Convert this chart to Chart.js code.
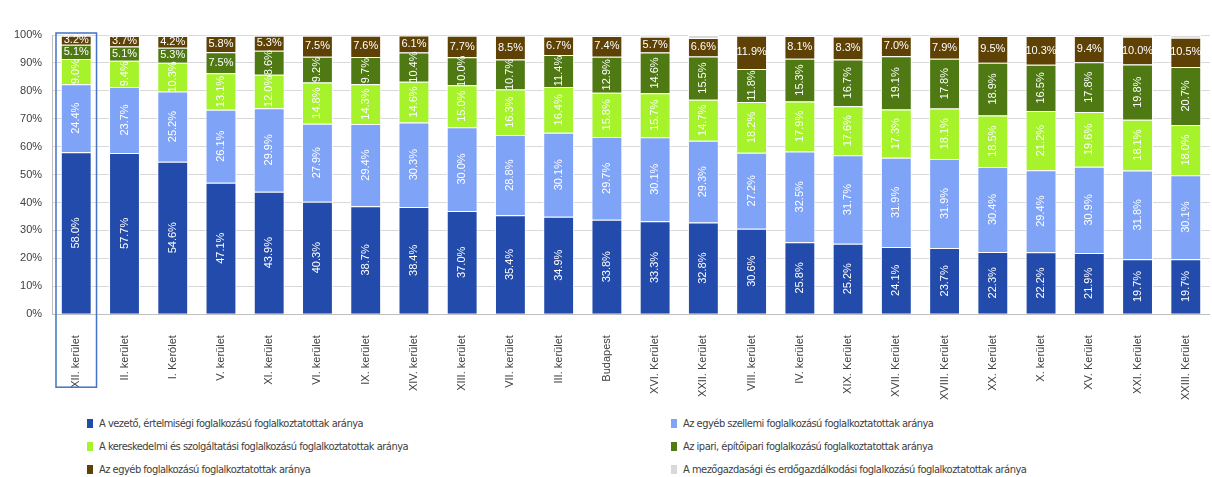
<!DOCTYPE html>
<html>
<head>
<meta charset="utf-8">
<script src="https://cdn.jsdelivr.net/npm/chart.js@4/dist/chart.umd.min.js"></script>
<style>
  body { margin: 0; background: #fff; }
  #wrap { position: relative; width: 1212px; height: 477px; }
  #legend { position: absolute; left: 87px; top: 415px; width: 1120px;
    display: grid; grid-template-columns: 584px 520px; row-gap: 6px;
    font-family: "Liberation Sans Narrow", "DejaVu Sans Condensed", sans-serif;
    font-size: 11px; letter-spacing: -0.5px; color: #404040; }
  #legend div { display: flex; align-items: center; height: 17px; }
  #legend span.box { display: inline-block; width: 6px; height: 9px; margin-right: 6px; }
  #chart { position: absolute; left: 0; top: 0; }
</style>
</head>
<body>
<div id="wrap">
  <canvas id="chart" width="1212" height="413"></canvas>
  <div id="legend"></div>
</div>
<script>
const categories = ["XII. kerület", "II. kerület", "I. Kerólet", "V. kerület", "XI. kerület", "VI. kerület",
  "IX. kerület", "XIV. kerület", "XIII. kerület", "VII. kerület", "III. kerület", "Budapest",
  "XVI. Kerület", "XXII. Kerület", "VIII. kerület", "IV. kerület", "XIX. Kerület", "XVII. Kerület",
  "XVIII. Kerület", "XX. Kerület", "X. kerület", "XV. Kerület", "XXI. Kerület", "XXIII. Kerület"];

const vezeto    = [58.0, 57.7, 54.6, 47.1, 43.9, 40.3, 38.7, 38.4, 37.0, 35.4, 34.9, 33.8, 33.3, 32.8, 30.6, 25.8, 25.2, 24.1, 23.7, 22.3, 22.2, 21.9, 19.7, 19.7];
const szellemi  = [24.4, 23.7, 25.2, 26.1, 29.9, 27.9, 29.4, 30.3, 30.0, 28.8, 30.1, 29.7, 30.1, 29.3, 27.2, 32.5, 31.7, 31.9, 31.9, 30.4, 29.4, 30.9, 31.8, 30.1];
const kereskedo = [9.0, 9.4, 10.3, 13.1, 12.0, 14.8, 14.3, 14.6, 15.0, 16.3, 16.4, 15.8, 15.7, 14.7, 18.2, 17.9, 17.6, 17.3, 18.1, 18.5, 21.2, 19.6, 18.1, 18.0];
const ipari     = [5.1, 5.1, 5.3, 7.5, 8.6, 9.2, 9.7, 10.4, 10.0, 10.7, 11.4, 12.9, 14.6, 15.5, 11.8, 15.3, 16.7, 19.1, 17.8, 18.9, 16.5, 17.8, 19.8, 20.7];
const egyeb     = [3.2, 3.7, 4.2, 5.8, 5.3, 7.5, 7.6, 6.1, 7.7, 8.5, 6.7, 7.4, 5.7, 6.6, 11.9, 8.1, 8.3, 7.0, 7.9, 9.5, 10.3, 9.4, 10.0, 10.5];
const mezo      = [0.3, 0.4, 0.4, 0.4, 0.3, 0.3, 0.3, 0.2, 0.3, 0.3, 0.5, 0.4, 0.6, 1.1, 0.3, 0.4, 0.5, 0.6, 0.6, 0.4, 0.4, 0.4, 0.6, 1.0];

const seriesNames = [
  "A vezető, értelmiségi foglalkozású foglalkoztatottak aránya",
  "Az egyéb szellemi foglalkozású foglalkoztatottak aránya",
  "A kereskedelmi és szolgáltatási foglalkozású foglalkoztatottak aránya",
  "Az ipari, építőipari foglalkozású foglalkoztatottak aránya",
  "Az egyéb foglalkozású foglalkoztatottak aránya",
  "A mezőgazdasági és erdőgazdálkodási foglalkozású foglalkoztatottak aránya"
];
const seriesValues = [vezeto, szellemi, kereskedo, ipari, egyeb, mezo];
const colors = ["#234BAB", "#7FA3F7", "#A6F22B", "#4E7913", "#5E4205", "#D9D9D9"];

const datasets = seriesValues.map((vals, i) => ({
  label: seriesNames[i],
  data: vals,
  backgroundColor: colors[i],
  borderColor: "#ffffff",
  borderWidth: 1,
  barPercentage: 0.64,
  categoryPercentage: 1.0
}));

// value labels inside the segments
const segmentLabels = {
  id: "segmentLabels",
  afterDatasetsDraw(chart) {
    const ctx = chart.ctx;
    ctx.save();
    ctx.fillStyle = "#ffffff";
    ctx.textAlign = "center";
    ctx.textBaseline = "middle";
    ctx.font = "11px 'Liberation Sans', Arial, sans-serif";
    for (let d = 0; d < 5; d++) {
      const meta = chart.getDatasetMeta(d);
      meta.data.forEach((bar, j) => {
        const v = seriesValues[d][j];
        const txt = v.toFixed(1) + "%";
        const cy = (bar.y + bar.base) / 2;
        const horizontal = d === 4 || v < 8;
        ctx.save();
        ctx.translate(bar.x, cy);
        if (!horizontal) ctx.rotate(-Math.PI / 2);
        ctx.fillText(txt, 0, 0);
        ctx.restore();
      });
    }
    ctx.restore();
  }
};

// outline around the first category
const highlight = {
  id: "highlight",
  afterDraw(chart) {
    const x = chart.scales.x;
    const c = x.getPixelForValue(0);
    const half = (x.getPixelForValue(1) - c) * 0.42;
    const a = chart.chartArea;
    const ctx = chart.ctx;
    ctx.save();
    ctx.strokeStyle = "#4472C4";
    ctx.lineWidth = 1.5;
    ctx.strokeRect(c - half, a.top - 2, half * 2, a.bottom - a.top + 75);
    ctx.restore();
  }
};

new Chart(document.getElementById("chart"), {
  type: "bar",
  data: { labels: categories, datasets: datasets },
  options: {
    responsive: false,
    animation: false,
    layout: { padding: { top: 35, left: 4, right: 1, bottom: 0 } },
    plugins: { legend: { display: false }, tooltip: { enabled: false } },
    scales: {
      x: {
        stacked: true,
        grid: { display: false },
        border: { color: "#bfbfbf" },
        ticks: {
          autoSkip: false, minRotation: 90, maxRotation: 90, padding: 13,
          color: "#404040", font: { family: "'Liberation Sans', Arial, sans-serif", size: 11 }
        }
      },
      y: {
        stacked: true,
        min: 0, max: 100,
        grid: { color: "#d9d9d9", drawTicks: false },
        border: { color: "#bfbfbf" },
        ticks: {
          stepSize: 10, padding: 10,
          color: "#404040", font: { family: "'Liberation Sans', Arial, sans-serif", size: 11 },
          callback: v => v + "%"
        }
      }
    }
  },
  plugins: [segmentLabels, highlight]
});

const legend = document.getElementById("legend");
seriesNames.forEach((name, i) => {
  const item = document.createElement("div");
  item.innerHTML = '<span class="box" style="background:' + colors[i] + '"></span>' + name;
  legend.appendChild(item);
});
</script>
</body>
</html>
